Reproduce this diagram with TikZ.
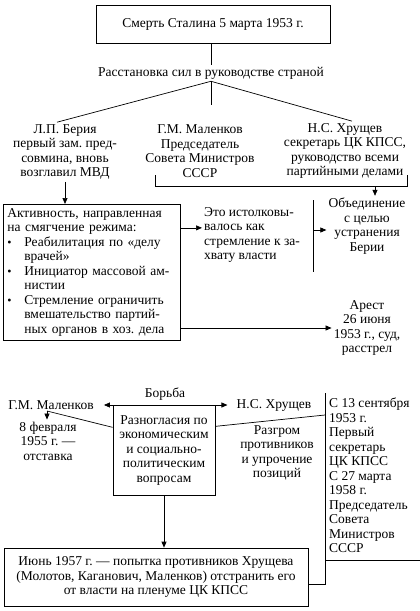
\documentclass[tikz,border=0pt]{standalone}
\usepackage{fontspec}
\setmainfont{Liberation Serif}
\usetikzlibrary{arrows.meta}

\begin{document}
\begin{tikzpicture}[x=1pt,y=-1pt,
    every node/.style={font=\fontsize{13.5}{14.5}\selectfont\frenchspacing, inner sep=2pt},
    frame/.style={draw, line width=0.7pt},
    txt/.style={align=center},
    ln/.style={line width=0.7pt},
    arr/.style={ln, -{Triangle[length=6pt,width=5pt]}},
    dblarr/.style={ln, {Triangle[length=6pt,width=5pt]}-{Triangle[length=6pt,width=5pt]}}]
\useasboundingbox (0,0) rectangle (420,611);

% top
\node[frame, minimum width=234pt, minimum height=38pt] (death) at (213,24) {Смерть Сталина 5 марта 1953 г.};
\node (balance) at (211,73) {Расстановка сил в руководстве страной};
\draw[ln] (death.south -| balance.north) -- (balance);

% leaders
\node[txt] (beria) at (65,152) {Л.П. Берия\\первый зам. пред-\\совмина, вновь\\возглавил МВД};
\node[txt] (malen) at (200,151) {Г.М. Маленков\\Председатель\\Совета Министров\\СССР};
\node[txt] (khrus) at (345,151) {Н.С. Хрущев\\секретарь ЦК КПСС,\\руководство всеми\\партийными делами};
\draw[ln] (balance.south) -- ([xshift=-8pt]beria.north);
\draw[ln] (balance.south) -- ([xshift=7pt]khrus.north);
\draw[ln] (balance.south) -- ++(0,24);

% bracket Malenkov + Khrushchev
\coordinate (brk) at (375,186);
\draw[ln] (155,175) -- (155,186) -- (407,186) -- (407,175);

% Beria activity
\node[frame, text width=169pt, align=left, anchor=north west, inner sep=4pt] (activity) at (3,204)
  {Активность, направленная\\на смягчение режима:\\
   \makebox[17pt][l]{\large\textbullet}Реабилитация по «делу\\\hspace*{17pt}врачей»\\
   \makebox[17pt][l]{\large\textbullet}Инициатор массовой ам-\\\hspace*{17pt}нистии\\
   \makebox[17pt][l]{\large\textbullet}Стремление ограничить\\\hspace*{17pt}вмешательство партий-\\\hspace*{17pt}ных органов в хоз. дела};
\draw[arr] (beria.south) -- (beria.south |- activity.north);

\node[align=left, anchor=north west] (interp) at (202,205) {Это истолковы-\\валось как\\стремление к за-\\хвату власти};
\path ([yshift=7pt]interp.west) coordinate (ia);
\draw[arr] (activity.east |- ia) -- (ia);

\node[txt] (unite) at (367,226) {Объединение\\с целью\\устранения\\Берии};
\draw[arr] (brk) -- (brk |- unite.north);
\coordinate (divtop) at (313,200);
\coordinate (divbot) at (313,272);
\draw[ln] (divtop) -- (divbot);
\path ([yshift=-4pt]unite.west) coordinate (ua);
\draw[arr] (divtop |- ua) -- (ua);

\node[txt] (arrest) at (367,328) {Арест\\26 июня\\1953 г., суд,\\расстрел};
\draw[arr] (activity.east |- arrest.west) -- (arrest.west);

% struggle
\node (fight) at (165,394) {Борьба};
\node[frame, minimum width=102pt, minimum height=90pt, anchor=north, align=center] (disagree) at (164,405)
  {Разногласия по\\экономическим\\и социально-\\политическим\\вопросам};
\node (malen2) at (51,405) {Г.М. Маленков};
\node (khrus2) at (274,405) {Н.С. Хрущев};
\draw[dblarr] ([xshift=8pt]malen2.east) -- ([xshift=-7pt]khrus2.west);

\node[txt] (resign) at (48,441) {8 февраля\\1955 г. —\\отставка};
\coordinate (mbend) at (47,411);
\draw[ln] ([yshift=23pt]disagree.west) -- (mbend);
\draw[arr] (mbend) -- (mbend |- resign.north);

\node[txt] (rout) at (277,453) {Разгром\\противников\\и упрочение\\позиций};
\node[align=left, anchor=north west] (career) at (327,396)
  {С 13 сентября\\1953 г.\\Первый\\секретарь\\ЦК КПСС\\С 27 марта\\1958 г.\\Председатель\\Совета\\Министров\\СССР};

\node[frame, minimum width=304pt, minimum height=58pt, align=center] (plenum) at (156,577)
  {Июнь 1957 г. — попытка противников Хрущева\\(Молотов, Каганович, Маленков) отстранить его\\от власти на пленуме ЦК КПСС};
\draw[arr] (disagree.south) -- (disagree.south |- plenum.north);

\coordinate (vtop) at (325,393);
\coordinate (kjoin) at (325,415);
\coordinate (vmid) at (325,560);
\coordinate (vbot) at (325,584);
\draw[ln] ([yshift=24pt]disagree.east) -- (kjoin);
\draw[ln] (vtop) -- (vbot) -- (vbot -| plenum.east);
\draw[ln] (vmid) -- (420,560);
\end{tikzpicture}
\end{document}
